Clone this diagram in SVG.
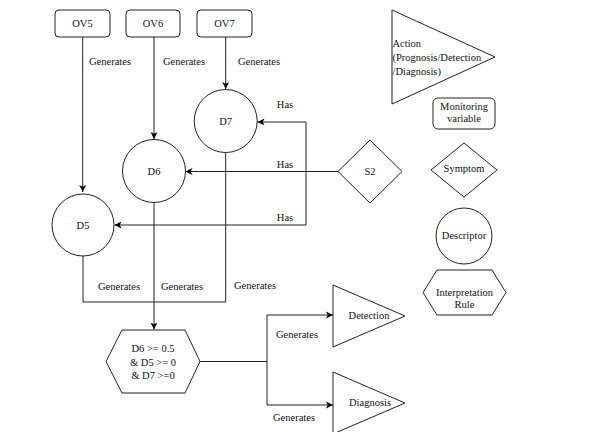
<svg xmlns="http://www.w3.org/2000/svg" width="609" height="432" viewBox="0 0 609 432">
<defs>
<marker id="ah" markerWidth="8" markerHeight="8" refX="7" refY="4" orient="auto" markerUnits="userSpaceOnUse">
<path d="M0,0.5 L7,4 L0,7.5 L1.8,4 Z" fill="#000"/>
</marker>
</defs>
<style>
.n{fill:#fff;stroke:#222;stroke-width:1}
.c{fill:none;stroke:#222;stroke-width:1}
.a{marker-end:url(#ah)}
text{font-size:10.5px;fill:#111;text-anchor:middle;dominant-baseline:central}
.l{text-anchor:start}
</style>
<rect width="609" height="432" fill="#fff"/>
<g font-family="'Liberation Serif', 'DejaVu Serif', serif">
<g id="connectors">
<path class="c a" d="M82.7,37 V192"/>
<path class="c a" d="M154,37 V139"/>
<path class="c a" d="M225.7,37 V89"/>
<path class="c a" d="M338,171.5 H185.5"/>
<path class="c a" d="M306,171.5 V122 H257.5"/>
<path class="c a" d="M306,171.5 V225 H114.5"/>
<path class="c" d="M83,256 V302 H225.7 V152"/>
<path class="c" d="M154,203 V302"/>
<path class="c a" d="M154,302 V329.5"/>
<path class="c a" d="M200,361.5 H267 V315 H333"/>
<path class="c a" d="M267,361.5 V405 H333"/>
</g>
<g id="labels">
<text x="110" y="61">Generates</text>
<text x="184" y="61">Generates</text>
<text x="259" y="61">Generates</text>
<text x="285" y="104">Has</text>
<text x="285" y="164">Has</text>
<text x="285" y="217">Has</text>
<text x="119" y="286">Generates</text>
<text x="182" y="286">Generates</text>
<text x="255" y="285">Generates</text>
<text x="297" y="334">Generates</text>
<text x="294" y="417">Generates</text>
</g>
<g id="OV5"><rect class="n" x="55" y="10" width="55" height="27" rx="4"/><text x="82.5" y="23.5">OV5</text></g>
<g id="OV6"><rect class="n" x="126" y="10" width="54" height="27" rx="4"/><text x="153" y="23.5">OV6</text></g>
<g id="OV7"><rect class="n" x="197" y="10" width="55" height="27" rx="4"/><text x="224.5" y="23.5">OV7</text></g>
<g id="D7"><circle class="n" cx="225.7" cy="121" r="31.5"/><text x="225.7" y="121">D7</text></g>
<g id="D6"><circle class="n" cx="154" cy="171" r="31.5"/><text x="154" y="171">D6</text></g>
<g id="D5"><circle class="n" cx="83" cy="225" r="31"/><text x="83" y="225">D5</text></g>
<g id="S2"><polygon class="n" points="370,140 402,171.5 370,203 338,171.5"/><text x="370" y="171.5">S2</text></g>
<g id="rule"><polygon class="n" points="122,330 185,330 200,361.5 185,393 122,393 106,361.5"/>
<text x="153" y="348">D6 &gt;= 0.5</text><text x="153" y="362">&amp; D5 &gt;= 0</text><text x="153" y="375">&amp; D7 &gt;=0</text></g>
<g id="Detection"><polygon class="n" points="333,285 405,316 333,347"/><text x="369" y="315">Detection</text></g>
<g id="Diagnosis"><polygon class="n" points="333,372 405,403 333,434"/><text x="370" y="402">Diagnosis</text></g>
<g id="legend-action"><polygon class="n" points="392,10 495,57 392,104"/>
<text class="l" x="392.5" y="43" font-size="11">Action</text>
<text class="l" x="392.5" y="57" font-size="11">(Prognosis/Detection</text>
<text class="l" x="392.5" y="71" font-size="11">/Diagnosis)</text></g>
<g id="legend-monitoring"><rect class="n" x="433" y="98" width="62" height="31" rx="5"/><text x="464" y="106.5">Monitoring</text><text x="464" y="118.5">variable</text></g>
<g id="legend-symptom"><polygon class="n" points="464,143 497,170 464,197 431,170"/><text x="464" y="168">Symptom</text></g>
<g id="legend-descriptor"><circle class="n" cx="464" cy="236" r="28"/><text x="464" y="235">Descriptor</text></g>
<g id="legend-rule"><polygon class="n" points="437,270 492,270 506,292.5 492,315 437,315 423,292.5"/><text x="464.5" y="292">Interpretation</text><text x="464.5" y="304">Rule</text></g>
</g>
</svg>
